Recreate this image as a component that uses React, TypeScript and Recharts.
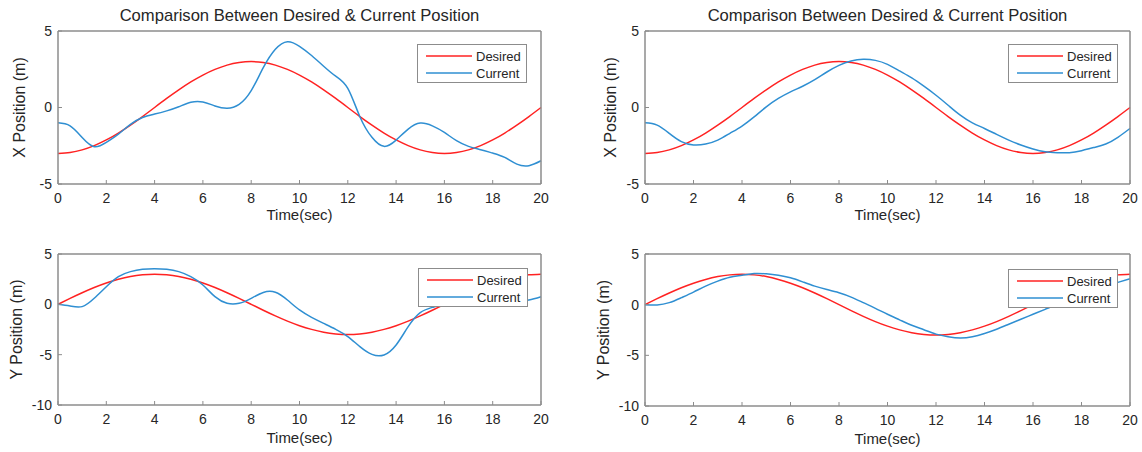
import React from "react";
import { LineChart, Line, XAxis, YAxis, Legend, Label } from "recharts";

// sample times (sec)
const time = [
  0, 0.5, 1, 1.5, 2, 2.5, 3, 3.5, 4, 4.5, 5, 5.5, 6, 6.5, 7, 7.5, 8, 8.5, 9, 9.5, 10,
  10.5, 11, 11.5, 12, 12.5, 13, 13.5, 14, 14.5, 15, 15.5, 16, 16.5, 17, 17.5, 18, 18.5, 19, 19.5, 20,
];

// X position, desired path (same in both columns)
const desiredX = [
  -3, -2.94, -2.77, -2.49, -2.12, -1.67, -1.15, -0.59, 0, 0.59, 1.15, 1.67, 2.12, 2.49, 2.77, 2.94, 3,
  2.94, 2.77, 2.49, 2.12, 1.67, 1.15, 0.59, 0, -0.59, -1.15, -1.67, -2.12, -2.49, -2.77, -2.94, -3,
  -2.94, -2.77, -2.49, -2.12, -1.67, -1.15, -0.59, 0,
];
// X position, current (left column)
const currentXLeft = [
  -1.0, -1.2, -1.96, -2.56, -2.28, -1.74, -1.1, -0.65, -0.43, -0.22, 0.05, 0.34, 0.36, 0.1, -0.05, 0.2,
  1.1, 2.6, 3.8, 4.3, 4.0, 3.4, 2.7, 2.05, 1.25, -0.6, -1.95, -2.54, -2.13, -1.41, -1.02, -1.2, -1.63,
  -2.17, -2.54, -2.76, -2.98, -3.26, -3.7, -3.8, -3.48,
];
// X position, current (right column)
const currentXRight = [
  -1.0, -1.15, -1.69, -2.23, -2.45, -2.39, -2.13, -1.69, -1.21, -0.61, 0.04, 0.59, 1.02, 1.39, 1.82,
  2.32, 2.75, 3.04, 3.15, 3.08, 2.82, 2.39, 1.93, 1.39, 0.8, 0.15, -0.5, -1.0, -1.37, -1.76, -2.13,
  -2.45, -2.71, -2.89, -2.95, -2.95, -2.82, -2.62, -2.39, -1.95, -1.37,
];

// Y position, desired path
const desiredY = [
  0, 0.59, 1.15, 1.67, 2.12, 2.49, 2.77, 2.94, 3, 2.94, 2.77, 2.49, 2.12, 1.67, 1.15, 0.59, 0, -0.59,
  -1.15, -1.67, -2.12, -2.49, -2.77, -2.94, -3, -2.94, -2.77, -2.49, -2.12, -1.67, -1.15, -0.59, 0,
  0.59, 1.15, 1.67, 2.12, 2.49, 2.77, 2.94, 3,
];
const currentYLeft = [
  0, -0.17, -0.23, 0.6, 1.75, 2.75, 3.25, 3.48, 3.54, 3.48, 3.25, 2.75, 1.92, 0.76, 0.1, 0.1, 0.6,
  1.18, 1.2, 0.43, -0.56, -1.29, -1.89, -2.48, -3.2, -4.2, -4.97, -5.03, -4.04, -2.22, -0.83, -0.3,
  0.03, 0.1, 0.15, 0.2, 0.2, 0.25, 0.3, 0.42, 0.75,
];
const currentYRight = [
  0, -0.03, 0.2, 0.69, 1.24, 1.83, 2.32, 2.71, 2.9, 3.07, 3.04, 2.9, 2.65, 2.25, 1.83, 1.5, 1.18, 0.75,
  0.2, -0.36, -0.95, -1.5, -2.03, -2.48, -2.91, -3.17, -3.3, -3.17, -2.84, -2.42, -1.93, -1.44, -0.95,
  -0.46, 0.03, 0.5, 1.0, 1.45, 1.85, 2.2, 2.55,
];

const timeTicks = [0, 2, 4, 6, 8, 10, 12, 14, 16, 18, 20];
const xPosTicks = [-5, 0, 5];
const yPosTicks = [-10, -5, 0, 5];
const legendOrder = ["Desired", "Current"];

const TITLE = "Comparison Between Desired & Current Position";

const FONT = '"Liberation Sans", Arial, Helvetica, sans-serif';
const AXIS = "#8c8c8c";
const TEXT = "#262626";
const RED = "#ff2222";
const BLUE = "#2f8fd2";
const seriesColor: Record<string, string> = { Desired: RED, Current: BLUE };

const rows = (desired: number[], current: number[]) =>
  time.map((t, i) => ({ t, desired: desired[i], current: current[i] }));

// matlab style legend box, drawn over the lines
const LegendBox = () => (
  <svg width={110} height={39} style={{ display: "block" }}>
    <rect x={0.5} y={0.5} width={109} height={38} fill="#fff" stroke={AXIS} strokeWidth={1} />
    {legendOrder.map((name, i) => (
      <g key={name}>
        <line
          x1={9}
          x2={55}
          y1={12 + i * 17}
          y2={12 + i * 17}
          stroke={seriesColor[name]}
          strokeWidth={1.5}
        />
        <text
          x={59}
          y={12 + i * 17}
          dominantBaseline="central"
          fill={TEXT}
          fontSize={13}
          fontFamily={FONT}
        >
          {name}
        </text>
      </g>
    ))}
  </svg>
);

interface PanelProps {
  left: number;
  top: number;
  width: number;
  height: number;
  plot: { left: number; top: number; right: number; bottom: number };
  data: any[];
  yDomain: [number, number];
  yTicks: number[];
  yLabel: string;
  yLabelX: number;
  xLabelDy: number;
  title?: string;
  legendPos: { left: number; top: number };
}

function Panel(p: PanelProps) {
  const margin = {
    top: p.plot.top - 1,
    left: p.plot.left - 50,
    right: p.width - p.plot.right - 1,
    bottom: p.height - p.plot.bottom - 40,
  };
  const cy = (p.plot.top + p.plot.bottom) / 2;
  const axisLine = { stroke: AXIS, strokeWidth: 1.5 };
  const tickLine = { stroke: AXIS };
  return (
    <div style={{ position: "absolute", left: p.left, top: p.top }}>
      <LineChart width={p.width} height={p.height} data={p.data} margin={margin}>
        <XAxis
          dataKey="t"
          type="number"
          domain={[0, 20]}
          ticks={timeTicks}
          interval={0}
          height={40}
          tickSize={-4}
          tickMargin={13}
          axisLine={axisLine}
          tickLine={tickLine}
          tick={{ fill: TEXT, fontSize: 14, fontFamily: FONT }}
        >
          <Label
            content={(lp: any) => (
              <text
                x={lp.viewBox.x + lp.viewBox.width / 2}
                y={lp.viewBox.y + p.xLabelDy}
                textAnchor="middle"
                fill={TEXT}
                fontSize={15}
                fontFamily={FONT}
              >
                Time(sec)
              </text>
            )}
          />
        </XAxis>
        <XAxis
          xAxisId="top"
          orientation="top"
          dataKey="t"
          type="number"
          domain={[0, 20]}
          ticks={timeTicks}
          interval={0}
          height={1}
          tick={false}
          tickSize={-4}
          axisLine={axisLine}
          tickLine={tickLine}
        >
          {p.title && (
            <Label
              content={(lp: any) => (
                <text
                  x={lp.viewBox.x + lp.viewBox.width / 2}
                  y={lp.viewBox.y - 9}
                  textAnchor="middle"
                  fill={TEXT}
                  fontSize={16.6}
                  fontFamily={FONT}
                >
                  {p.title}
                </text>
              )}
            />
          )}
        </XAxis>
        <YAxis
          type="number"
          domain={p.yDomain}
          ticks={p.yTicks}
          interval={0}
          width={50}
          tickSize={-4}
          tickMargin={10}
          axisLine={axisLine}
          tickLine={tickLine}
          tick={{ fill: TEXT, fontSize: 14, fontFamily: FONT }}
        >
          <Label
            content={() => (
              <text
                x={p.yLabelX}
                y={cy}
                transform={`rotate(-90 ${p.yLabelX} ${cy})`}
                textAnchor="middle"
                dominantBaseline="central"
                fill={TEXT}
                fontSize={16}
                fontFamily={FONT}
              >
                {p.yLabel}
              </text>
            )}
          />
        </YAxis>
        <YAxis
          yAxisId="right"
          orientation="right"
          type="number"
          domain={p.yDomain}
          ticks={p.yTicks}
          interval={0}
          width={1}
          tick={false}
          tickSize={-4}
          axisLine={axisLine}
          tickLine={tickLine}
        />
        <Legend
          layout="vertical"
          align="center"
          verticalAlign="middle"
          content={<LegendBox />}
          wrapperStyle={{ left: p.legendPos.left, top: p.legendPos.top, width: 110, height: 39 }}
        />
        <Line
          type="natural"
          dataKey="desired"
          name="Desired"
          stroke={RED}
          strokeWidth={1.5}
          dot={false}
          isAnimationActive={false}
        />
        <Line
          type="natural"
          dataKey="current"
          name="Current"
          stroke={BLUE}
          strokeWidth={1.5}
          dot={false}
          isAnimationActive={false}
        />
      </LineChart>
    </div>
  );
}

export default function App() {
  return (
    <div
      style={{
        position: "absolute",
        left: 0,
        top: 0,
        width: 1142,
        height: 452,
        background: "#fff",
        overflow: "hidden",
      }}
    >
      <Panel
        left={0}
        top={0}
        width={571}
        height={230}
        plot={{ left: 58, top: 31, right: 541, bottom: 184 }}
        data={rows(desiredX, currentXLeft)}
        yDomain={[-5, 5]}
        yTicks={xPosTicks}
        yLabel="X Position (m)"
        yLabelX={19}
        xLabelDy={36}
        title={TITLE}
        legendPos={{ left: 417, top: 44 }}
      />
      <Panel
        left={571}
        top={0}
        width={571}
        height={230}
        plot={{ left: 74, top: 31, right: 559, bottom: 184 }}
        data={rows(desiredX, currentXRight)}
        yDomain={[-5, 5]}
        yTicks={xPosTicks}
        yLabel="X Position (m)"
        yLabelX={39}
        xLabelDy={36}
        title={TITLE}
        legendPos={{ left: 437, top: 44 }}
      />
      <Panel
        left={0}
        top={230}
        width={571}
        height={222}
        plot={{ left: 58, top: 24, right: 541, bottom: 175 }}
        data={rows(desiredY, currentYLeft)}
        yDomain={[-10, 5]}
        yTicks={yPosTicks}
        yLabel="Y Position (m)"
        yLabelX={16}
        xLabelDy={38}
        legendPos={{ left: 418, top: 38 }}
      />
      <Panel
        left={571}
        top={230}
        width={571}
        height={222}
        plot={{ left: 74, top: 24, right: 559, bottom: 176 }}
        data={rows(desiredY, currentYRight)}
        yDomain={[-10, 5]}
        yTicks={yPosTicks}
        yLabel="Y Position (m)"
        yLabelX={32}
        xLabelDy={38}
        legendPos={{ left: 437, top: 39 }}
      />
    </div>
  );
}
